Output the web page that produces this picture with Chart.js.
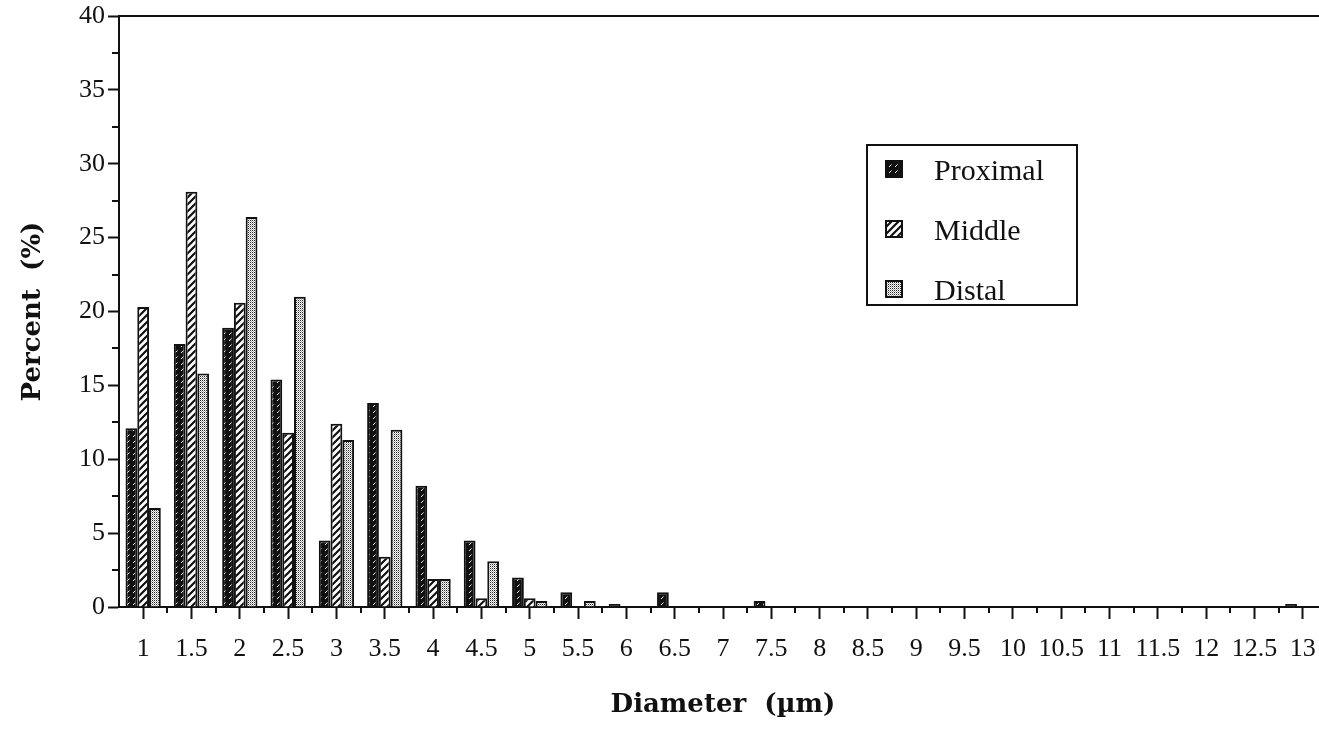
<!DOCTYPE html>
<html>
<head>
<meta charset="utf-8">
<title>Diameter distribution</title>
<script src="https://cdn.jsdelivr.net/npm/chart.js@4.4.1/dist/chart.umd.min.js"></script>
<style>
  html, body { margin: 0; padding: 0; background: #fff; overflow: hidden; }
  #wrap { width: 1340px; height: 731px; position: relative; }
</style>
</head>
<body>
<div id="wrap"><canvas id="diam-chart"></canvas></div>
<script>
// ── Data ──
const diameters = ["1", "1.5", "2", "2.5", "3", "3.5", "4", "4.5", "5", "5.5", "6", "6.5", "7",
                   "7.5", "8", "8.5", "9", "9.5", "10", "10.5", "11", "11.5", "12", "12.5", "13"];
const proximal = [12.1, 17.8, 18.9, 15.4, 4.5, 13.8, 8.2, 4.5, 2.0, 1.0, 0.2, 1.0, 0,
                  0.4, 0, 0, 0, 0, 0, 0, 0, 0, 0, 0, 0.2];
const middle   = [20.3, 28.1, 20.6, 11.8, 12.4, 3.4, 1.9, 0.6, 0.6, 0, 0, 0, 0,
                  0, 0, 0, 0, 0, 0, 0, 0, 0, 0, 0, 0];
const distal   = [6.7, 15.8, 26.4, 21.0, 11.3, 12.0, 1.9, 3.1, 0.4, 0.4, 0, 0, 0,
                  0, 0, 0, 0, 0, 0, 0, 0, 0, 0, 0, 0];
const seriesNames = ["Proximal", "Middle", "Distal"];
const yMax = 40;
const yStep = 5;

const INK = "#111";
const SERIF = "'Liberation Serif', 'Times New Roman', serif";
const TITLE_FONT = "'DejaVu Serif', 'Liberation Serif', serif";

// ── Fill patterns ──
function makePattern(size, draw) {
  const tile = document.createElement("canvas");
  tile.width = tile.height = size;
  const g = tile.getContext("2d");
  draw(g, size);
  return document.createElement("canvas").getContext("2d").createPattern(tile, "repeat");
}

// dark fill broken by little white diagonal dashes
const patProximal = makePattern(6, (g, s) => {
  g.fillStyle = INK;
  g.fillRect(0, 0, s, s);
  g.fillStyle = "#eee";
  g.fillRect(1, 4, 1, 1);
  g.fillRect(2, 3, 1, 1);
  g.fillStyle = "#888";
  g.fillRect(3, 2, 1, 1);
});

// white with heavy forward hatching
const patMiddle = makePattern(7, (g, s) => {
  g.fillStyle = "#fff";
  g.fillRect(0, 0, s, s);
  g.strokeStyle = INK;
  g.lineWidth = 2.2;
  g.beginPath();
  g.moveTo(0, s); g.lineTo(s, 0);
  g.moveTo(-2, 2); g.lineTo(2, -2);
  g.moveTo(s - 2, s + 2); g.lineTo(s + 2, s - 2);
  g.stroke();
});

// light stipple
const patDistal = makePattern(2, (g, s) => {
  g.fillStyle = "#fff";
  g.fillRect(0, 0, s, s);
  g.fillStyle = "#222";
  g.fillRect(0, 0, 1, 1);
  g.fillStyle = "#aaa";
  g.fillRect(1, 1, 1, 1);
});

const patterns = [patProximal, patMiddle, patDistal];

// ── Frame, minor ticks and boxed legend ──
const axisExtras = {
  id: "axisExtras",
  afterDraw(chart) {
    const { ctx, chartArea: a, scales: { x, y } } = chart;
    ctx.save();
    ctx.strokeStyle = INK;
    ctx.lineWidth = 2;

    ctx.beginPath();
    ctx.moveTo(a.left - 1, a.top);
    ctx.lineTo(a.right, a.top);
    ctx.lineTo(a.right, a.bottom);
    ctx.stroke();

    ctx.beginPath();
    for (let v = yStep / 2; v < yMax; v += yStep) {
      const py = Math.round(y.getPixelForValue(v));
      ctx.moveTo(a.left - 7, py);
      ctx.lineTo(a.left, py);
    }
    for (let i = 0; i < diameters.length - 1; i++) {
      const px = Math.round((x.getPixelForTick(i) + x.getPixelForTick(i + 1)) / 2);
      ctx.moveTo(px, a.bottom);
      ctx.lineTo(px, a.bottom + 6);
    }
    ctx.stroke();

    // legend box
    const box = { x: 867, y: 145, w: 210, h: 160 };
    ctx.fillStyle = "#fff";
    ctx.fillRect(box.x, box.y, box.w, box.h);
    ctx.strokeRect(box.x, box.y, box.w, box.h);

    ctx.font = `30px ${SERIF}`;
    ctx.textBaseline = "alphabetic";
    chart.data.datasets.forEach((ds, i) => {
      const base = 180 + i * 60;
      ctx.fillStyle = ds.backgroundColor;
      ctx.fillRect(886, base - 19, 16, 16);
      ctx.lineWidth = 2;
      ctx.strokeRect(886, base - 19, 16, 16);
      ctx.fillStyle = INK;
      ctx.fillText(ds.label, 934, base);
    });
    ctx.restore();
  }
};

// ── Chart ──
const ctx = document.getElementById("diam-chart");

new Chart(ctx, {
  type: "bar",
  data: {
    labels: diameters,
    datasets: [proximal, middle, distal].map((values, i) => ({
      label: seriesNames[i],
      data: values,
      backgroundColor: patterns[i],
      borderColor: INK,
      borderWidth: 2,
      borderSkipped: "start",
      categoryPercentage: 0.73,
      barPercentage: 1.0,
    }))
  },
  options: {
    responsive: true,
    maintainAspectRatio: false,
    animation: false,
    devicePixelRatio: 1,
    events: [],
    layout: { padding: { top: 13, right: 13, bottom: 0, left: 0 } },
    plugins: {
      legend: { display: false },
      tooltip: { enabled: false }
    },
    scales: {
      x: {
        offset: true,
        grid: {
          offset: false,
          drawOnChartArea: false,
          tickLength: 12,
          tickWidth: 2,
          tickColor: INK
        },
        border: { color: INK, width: 2 },
        ticks: {
          autoSkip: false,
          maxRotation: 0,
          padding: 17,
          color: INK,
          font: { family: SERIF, size: 26, lineHeight: 1 }
        },
        title: {
          display: true,
          text: "Diameter  (µm)",
          color: INK,
          font: { family: TITLE_FONT, size: 26, weight: "bold", lineHeight: 1.2 },
          padding: { top: 0, bottom: 10 }
        },
        afterFit: s => { s.height = 124; }
      },
      y: {
        min: 0,
        max: yMax,
        ticks: {
          stepSize: yStep,
          padding: 3,
          color: INK,
          font: { family: SERIF, size: 26, lineHeight: 1 }
        },
        grid: {
          drawOnChartArea: false,
          tickLength: 11,
          tickWidth: 2,
          tickColor: INK
        },
        border: { color: INK, width: 2 },
        title: {
          display: true,
          text: "Percent  (%)",
          color: INK,
          font: { family: TITLE_FONT, size: 26, weight: "bold", lineHeight: 1.2 },
          padding: { top: 18, bottom: 0 }
        },
        afterFit: s => { s.width = 119; }
      }
    }
  },
  plugins: [axisExtras]
});
</script>
</body>
</html>
